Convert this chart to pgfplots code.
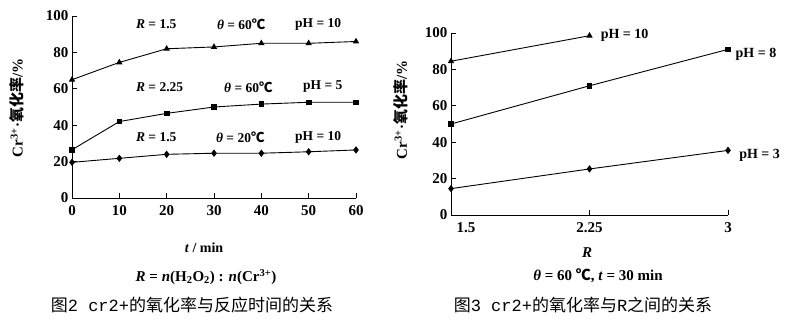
\documentclass[border=0pt]{standalone}
\usepackage{fontspec}
\setmainfont{Liberation Serif}
\setmonofont{Liberation Mono}
\newfontfamily\cjk{Noto Sans CJK SC}
\usepackage{pgfplots}
\pgfplotsset{compat=1.18}
\newcommand{\degC}{{\cjk ℃}}
\begin{document}
\begin{tikzpicture}
\path[use as bounding box] (0,0) rectangle (799pt,319pt);
\pgfplotsset{
  myax/.style={
    scale only axis,
    axis lines=left,
    axis line style={-, line width=1pt},
    tick align=inside,
    major tick length=5pt,
    tick style={line width=0.9pt, black},
    ymin=0, ymax=100,
    ytick={0,20,...,100},
    clip=false,
    /pgf/number format/assume math mode=true,
    ticklabel style={font=\fontsize{15}{15}\selectfont\bfseries},
    xticklabel style={yshift=-4pt},
  },
  ser/.style={black, line width=0.9pt, mark options={solid}},
}
% Left chart
\begin{axis}[myax,
  at={(72pt,121pt)}, anchor=south west,
  width=284pt, height=182pt,
  xmin=0, xmax=60, xtick={0,10,...,60},
]
\addplot[ser, mark=triangle*, mark size=2.8pt] coordinates {(0,65)(10,74.5)(20,82)(30,83)(40,85)(50,85)(60,86)};
\addplot[ser, mark=square*, mark size=2.3pt] coordinates {(0,26.5)(10,42)(20,46.5)(30,50)(40,51.6)(50,52.6)(60,52.6)};
\addplot[ser, mark=diamond*, mark size=3pt] coordinates {(0,19.6)(10,21.8)(20,24)(30,24.6)(40,24.6)(50,25.4)(60,26.4)};
\begin{scope}[every node/.style={anchor=west, font=\fontsize{13.5}{13.5}\selectfont\bfseries, inner sep=0pt}]
\node at (axis cs:13.5,95.6) {\textit{R} = 1.5};
\node at (axis cs:30.6,95.6) {\textit{θ} = 60\degC};
\node at (axis cs:47.1,95.6) {pH = 10};
\node at (axis cs:13.5,61) {\textit{R} = 2.25};
\node at (axis cs:32.1,61) {\textit{θ} = 60\degC};
\node at (axis cs:48.8,61) {pH = 5};
\node at (axis cs:13.5,33.5) {\textit{R} = 1.5};
\node at (axis cs:30.4,33.5) {\textit{θ} = 20\degC};
\node at (axis cs:47.1,33.5) {pH = 10};
\end{scope}
\end{axis}
% Right chart
\begin{axis}[myax,
  at={(451pt,104pt)}, anchor=south west,
  width=277pt, height=182pt,
  xmin=1.5, xmax=3, xtick={1.5,2.25,3}, xticklabels={\hspace*{30pt}1.5,2.25,3},
]
\addplot[ser, mark=triangle*, mark size=2.8pt] coordinates {(1.5,84.5)(2.25,98.5)};
\addplot[ser, mark=square*, mark size=2.3pt] coordinates {(1.5,50)(2.25,71)(3,91)};
\addplot[ser, mark=diamond*, mark size=3pt] coordinates {(1.5,14.5)(2.25,25.3)(3,35.5)};
\begin{scope}[every node/.style={anchor=west, font=\fontsize{14}{14}\selectfont\bfseries, inner sep=0pt}]
\node at (axis cs:2.31,98.5) {pH = 10};
\node at (axis cs:3.04,88.5) {pH = 8};
\node at (axis cs:3.06,32.5) {pH = 3};
\end{scope}
\end{axis}
% Labels
\node[rotate=90, font=\fontsize{15}{15}\selectfont\bfseries] at (17pt,211pt) {Cr\textsuperscript{3+}·{\cjk 氧化率}/\%};
\node[rotate=90, font=\fontsize{15}{15}\selectfont\bfseries] at (401pt,209pt) {Cr\textsuperscript{3+}·{\cjk 氧化率}/\%};
\node[font=\fontsize{14}{14}\selectfont\bfseries] at (204pt,71pt) {\textit{t} / min};
\node[font=\fontsize{15}{15}\selectfont\bfseries] at (206pt,42pt) {\textit{R} = \textit{n}(H\textsubscript{2}O\textsubscript{2}) : \textit{n}(Cr\textsuperscript{3+})};
\node[font=\fontsize{17}{17}\selectfont] at (192pt,14pt) {{\cjk 图}\texttt{2 cr2+}{\cjk 的氧化率与反应时间的关系}};
\node[font=\fontsize{15}{15}\selectfont\bfseries] at (587pt,66pt) {\textit{R}};
\node[font=\fontsize{15}{15}\selectfont\bfseries] at (598pt,43pt) {\textit{θ} = 60 \degC , \textit{t} = 30 min};
\node[font=\fontsize{17}{17}\selectfont] at (583pt,14pt) {{\cjk 图}\texttt{3 cr2+}{\cjk 的氧化率与}\texttt{R}{\cjk 之间的关系}};
\end{tikzpicture}
\end{document}
